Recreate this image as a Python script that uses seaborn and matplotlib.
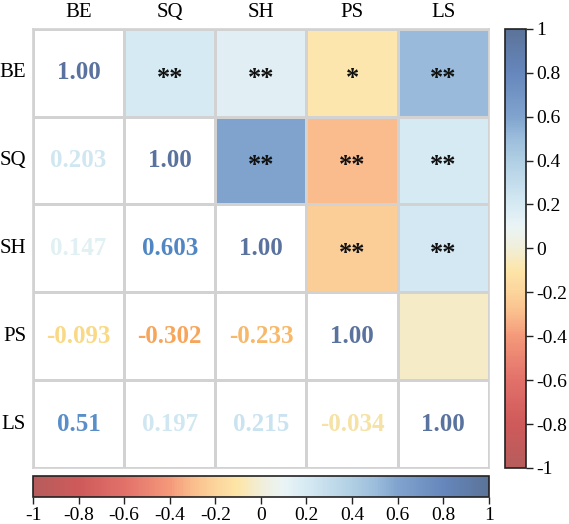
import numpy as np
import pandas as pd
import matplotlib
matplotlib.use("Agg")
import matplotlib.pyplot as plt
import seaborn as sns
from matplotlib.colors import LinearSegmentedColormap, ListedColormap
from matplotlib.cm import ScalarMappable
from matplotlib.colors import Normalize

labels = ["BE", "SQ", "SH", "PS", "LS"]

# lower triangle correlations, row by row (SQ, SH, PS, LS)
r_sq = [0.203]
r_sh = [0.147, 0.603]
r_ps = [-0.093, -0.302, -0.233]
r_ls = [0.51, 0.197, 0.215, -0.034]

# significance marks for the upper triangle, row by row
stars_be = ["**", "**", "*", "**"]
stars_sq = ["**", "**", "**"]
stars_sh = ["**", "**"]
stars_ps = [""]

cb_ticks = [-1, -0.8, -0.6, -0.4, -0.2, 0, 0.2, 0.4, 0.6, 0.8, 1]

# build symmetric matrix
n = len(labels)
corr = np.eye(n)
for i, row in enumerate([r_sq, r_sh, r_ps, r_ls], start=1):
    for j, v in enumerate(row):
        corr[i, j] = v
        corr[j, i] = v
stars = np.full((n, n), "", dtype=object)
for i, row in enumerate([stars_be, stars_sq, stars_sh, stars_ps]):
    for k, s in enumerate(row):
        stars[i, i + 1 + k] = s
df = pd.DataFrame(corr, index=labels, columns=labels)

# cell / colorbar colours (muted)
nodes = [
    (-1.0, "#b65c5c"), (-0.8, "#cf5a5a"), (-0.6, "#e2716a"), (-0.4, "#f4997a"),
    (-0.3, "#fabd8c"), (-0.2, "#fcd49c"), (-0.1, "#fde5a8"), (0.0, "#f1eed8"),
    (0.1, "#eaf4f6"), (0.2, "#d6eaf3"), (0.4, "#b0cfe4"), (0.5, "#9dbedc"),
    (0.6, "#80a4ce"), (0.8, "#6687bc"), (1.0, "#5b7399"),
]
cmap = LinearSegmentedColormap.from_list("corr", [((v + 1) / 2, c) for v, c in nodes])
# number colours (stronger)
text_nodes = [
    (-1.0, "#c0504d"), (-0.6, "#ee6f52"), (-0.4, "#f5955a"), (-0.3, "#f7a55b"),
    (-0.2, "#f9c070"), (-0.1, "#fbd77f"), (0.0, "#f2e8b8"), (0.15, "#dff0f5"),
    (0.2, "#d0e7f2"), (0.35, "#98c0e2"), (0.5, "#5b8fc9"), (0.6, "#4f86c4"),
    (1.0, "#5a739e"),
]
text_cmap = LinearSegmentedColormap.from_list("corr_txt", [((v + 1) / 2, c) for v, c in text_nodes])
norm = Normalize(-1, 1)

plt.rcParams["font.family"] = ["Liberation Serif", "DejaVu Serif"]

fig = plt.figure(figsize=(5.69, 5.24), dpi=100)
ax = fig.add_axes([0.058, 0.107, 0.801, 0.838])
cax_r = fig.add_axes([0.8875, 0.107, 0.037, 0.838])
cax_b = fig.add_axes([0.058, 0.0515, 0.801, 0.040])

upper = np.triu(np.ones((n, n), dtype=bool), k=1)
grid = dict(linewidths=1.0, linecolor="#d2d2d2")

sns.heatmap(df, mask=~upper, cmap=cmap, vmin=-1, vmax=1, annot=False,
            ax=ax, cbar_ax=cax_r, **grid)
cb_r = ax.collections[0].colorbar
sns.heatmap(df, mask=upper, cmap=ListedColormap(["white"]), cbar=False, ax=ax, **grid)

for i in range(n):
    for j in range(n):
        v = corr[i, j]
        if j > i:
            ax.text(j + 0.5, i + 0.56, stars[i, j], ha="center", va="center",
                    fontsize=19, fontweight="bold", color="#111111")
        else:
            txt = "1.00" if i == j else f"{v:.3g}"
            ax.text(j + 0.5, i + 0.5, txt, ha="center", va="center",
                    fontsize=18, fontweight="bold", color=text_cmap(norm(v)))

ax.xaxis.tick_top()
ax.tick_params(length=0, labelsize=15, pad=5)
ax.set_xticklabels(labels, rotation=0)
ax.set_yticklabels(labels, rotation=0)
ax.set_xlabel("")
ax.set_ylabel("")
for s in ax.spines.values():
    s.set_visible(True)
    s.set_color("#d2d2d2")
    s.set_linewidth(1.2)

fmt = lambda v: f"{v:g}"
cb_r.set_ticks(cb_ticks)
cb_r.set_ticklabels([fmt(t) for t in cb_ticks])
cb_r.outline.set_visible(True)
cb_r.outline.set_edgecolor("#222222")
cb_r.outline.set_linewidth(1.2)
cax_r.tick_params(labelsize=14, length=5, width=1, color="#222222", pad=2)

cb_b = fig.colorbar(ScalarMappable(norm=norm, cmap=cmap), cax=cax_b, orientation="horizontal")
cb_b.set_ticks(cb_ticks)
cb_b.set_ticklabels([fmt(t) for t in cb_ticks])
cb_b.outline.set_edgecolor("#222222")
cb_b.outline.set_linewidth(1.2)
cax_b.tick_params(labelsize=14, length=5, width=1, color="#222222", pad=2)

fig.savefig("out.png", dpi=100)
